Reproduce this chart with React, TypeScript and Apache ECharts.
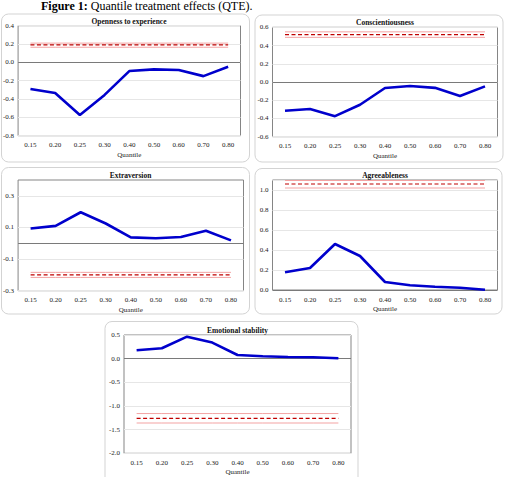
import React, { useEffect, useRef } from "react";
import * as echarts from "echarts";

// Quantiles at which the treatment effect was estimated
const quantiles = ["0.15", "0.20", "0.25", "0.30", "0.40", "0.50", "0.60", "0.70", "0.80"];

// Quantile treatment effects per trait
const openness = [-0.29, -0.335, -0.575, -0.355, -0.095, -0.076, -0.084, -0.15, -0.048];
const conscientiousness = [-0.315, -0.296, -0.375, -0.25, -0.066, -0.044, -0.064, -0.154, -0.048];
const extraversion = [0.093, 0.11, 0.196, 0.125, 0.037, 0.032, 0.04, 0.079, 0.018];
const agreeableness = [0.177, 0.22, 0.46, 0.34, 0.08, 0.047, 0.033, 0.023, 0.003];
const emotionalStability = [0.178, 0.22, 0.465, 0.34, 0.078, 0.05, 0.035, 0.03, 0.008];

// Average treatment effect with its confidence bounds: [estimate, lower, upper]
const ateOpenness = [0.19, 0.165, 0.21];
const ateConscientiousness = [0.52, 0.49, 0.55];
const ateExtraversion = [-0.2, -0.216, -0.184];
const ateAgreeableness = [1.06, 1.02, 1.095];
const ateEmotionalStability = [-1.26, -1.36, -1.16];

// Value-axis tick labels
const ticksOpenness = [-0.8, -0.6, -0.4, -0.2, 0.0, 0.2, 0.4];
const ticksConscientiousness = [-0.6, -0.4, -0.2, 0.0, 0.2, 0.4, 0.6];
const ticksExtraversion = [-0.3, -0.1, 0.1, 0.3];
const ticksAgreeableness = [0.0, 0.2, 0.4, 0.6, 0.8, 1.0];
const ticksEmotionalStability = [-2.0, -1.5, -1.0, -0.5, 0.0, 0.5];

const titles = ["Openness to experience", "Conscientiousness", "Extraversion", "Agreeableness", "Emotional stability"];

const FONT = "'Liberation Serif', 'Times New Roman', serif";
const GRID_COLOR = "#e6e6e6";

type Panel = {
  title: string;
  qte: number[];
  ate: number[];
  ticks: number[];
  min: number;
  max: number;
  interval: number;
  // when the tick labels do not start on a multiple of the step, grid lines are drawn per label
  gridPerLabel?: boolean;
  box: { x: number; y: number; w: number; h: number };
  grid: { left: number; top: number; width: number; height: number };
};

const panels: Panel[] = [
  {
    title: titles[0], qte: openness, ate: ateOpenness, ticks: ticksOpenness,
    min: -0.8, max: 0.4, interval: 0.2,
    box: { x: 1.5, y: 14, w: 248, h: 148 },
    grid: { left: 17.5, top: 25.7, width: 223, height: 110 },
  },
  {
    title: titles[1], qte: conscientiousness, ate: ateConscientiousness, ticks: ticksConscientiousness,
    min: -0.6, max: 0.6, interval: 0.2,
    box: { x: 255, y: 15, w: 248, h: 147 },
    grid: { left: 272.5, top: 27.3, width: 225, height: 109.4 },
  },
  {
    title: titles[2], qte: extraversion, ate: ateExtraversion, ticks: ticksExtraversion,
    min: -0.3, max: 0.4, interval: 0.1, gridPerLabel: true,
    box: { x: 1.5, y: 167.5, w: 248, h: 146.5 },
    grid: { left: 17.5, top: 180, width: 226, height: 110.7 },
  },
  {
    title: titles[3], qte: agreeableness, ate: ateAgreeableness, ticks: ticksAgreeableness,
    min: 0, max: 1.1, interval: 0.2,
    box: { x: 255, y: 168.5, w: 247, h: 145.5 },
    grid: { left: 272.5, top: 180, width: 225, height: 110 },
  },
  {
    title: titles[4], qte: emotionalStability, ate: ateEmotionalStability, ticks: ticksEmotionalStability,
    min: -2.0, max: 0.5, interval: 0.5,
    box: { x: 105, y: 321.5, w: 253, h: 170 },
    grid: { left: 124, top: 335, width: 227, height: 118.3 },
  },
];

export default function App() {
  const ref = useRef<HTMLDivElement>(null);

  useEffect(() => {
    if (!ref.current) return;
    const chart = echarts.init(ref.current, null, { renderer: "svg" });

    const grids: any[] = [];
    const xAxes: any[] = [];
    const yAxes: any[] = [];
    const series: any[] = [];
    const graphics: any[] = [];

    graphics.push({
      type: "text",
      x: 41,
      y: 0,
      z: 10,
      style: {
        text: "{b|Figure 1:} Quantile treatment effects (QTE).",
        fontFamily: FONT,
        fontSize: 12,
        fill: "#000",
        rich: { b: { fontWeight: "bold", fontFamily: FONT, fontSize: 12, fill: "#000" } },
      },
    });

    panels.forEach((p, i) => {
      graphics.push({
        type: "rect",
        z: -10,
        shape: { x: p.box.x, y: p.box.y, width: p.box.w, height: p.box.h, r: 7 },
        style: { fill: "#fff", stroke: "#d3d3d3", lineWidth: 1 },
      });
      graphics.push({
        type: "text",
        z: 10,
        x: p.grid.left + p.grid.width / 2,
        y: p.grid.top - 4.5,
        style: {
          text: p.title,
          fontFamily: FONT,
          fontSize: 7.5,
          fontWeight: "bold",
          fill: "#111",
          textAlign: "center",
          textVerticalAlign: "middle",
        },
      });

      grids.push({
        left: p.grid.left,
        top: p.grid.top,
        width: p.grid.width,
        height: p.grid.height,
        show: true,
        borderColor: "#858585",
        borderWidth: 1,
        backgroundColor: "transparent",
        containLabel: false,
      });
      xAxes.push({
        type: "category",
        gridIndex: i,
        data: quantiles,
        boundaryGap: true,
        axisLine: { show: false },
        axisTick: { show: false },
        splitLine: { show: false },
        axisLabel: { fontFamily: FONT, fontSize: 7, color: "#222", margin: 6, interval: 0 },
        name: "Quantile",
        nameLocation: "middle",
        nameGap: 15.5,
        nameTextStyle: { fontFamily: FONT, fontSize: 7, color: "#222" },
      });
      yAxes.push({
        type: "value",
        gridIndex: i,
        min: p.min,
        max: p.max,
        interval: p.interval,
        axisLine: { show: false },
        axisTick: { show: false },
        splitLine: { show: !p.gridPerLabel, lineStyle: { color: GRID_COLOR, width: 1 } },
        axisLabel: {
          fontFamily: FONT,
          fontSize: 7,
          color: "#222",
          margin: 4,
          customValues: p.ticks,
          formatter: (v: number) => v.toFixed(1),
        },
      });

      const [est, lo, hi] = p.ate;
      series.push({
        type: "line",
        xAxisIndex: i,
        yAxisIndex: i,
        data: quantiles.map(() => hi),
        symbol: "none",
        silent: true,
        lineStyle: { color: "#f3a3a3", width: 1 },
        z: 3,
        markLine: p.gridPerLabel
          ? {
              silent: true,
              symbol: "none",
              label: { show: false },
              lineStyle: { color: GRID_COLOR, width: 1, type: "solid" },
              data: p.ticks.map((t) => ({ yAxis: t })),
            }
          : undefined,
      });
      series.push({
        type: "line",
        xAxisIndex: i,
        yAxisIndex: i,
        data: quantiles.map(() => lo),
        symbol: "none",
        silent: true,
        lineStyle: { color: "#f3a3a3", width: 1 },
        z: 3,
      });
      series.push({
        type: "line",
        xAxisIndex: i,
        yAxisIndex: i,
        data: quantiles.map(() => est),
        symbol: "none",
        silent: true,
        lineStyle: { color: "#c00000", width: 1.2, type: [4, 2.5] },
        z: 4,
      });
      series.push({
        type: "line",
        xAxisIndex: i,
        yAxisIndex: i,
        data: p.qte,
        symbol: "none",
        silent: true,
        lineStyle: { color: "#0000cc", width: 2.6 },
        z: 5,
        markLine: {
          silent: true,
          symbol: "none",
          label: { show: false },
          lineStyle: { color: "#7a7a7a", width: 1, type: "solid" },
          data: [{ yAxis: 0 }],
        },
      });
    });

    chart.setOption({
      animation: false,
      backgroundColor: "#fff",
      grid: grids,
      xAxis: xAxes,
      yAxis: yAxes,
      series,
      graphic: graphics,
    });

    return () => chart.dispose();
  }, []);

  return (
    <div
      ref={ref}
      style={{ position: "fixed", left: 0, top: 0, width: 507, height: 477 }}
    />
  );
}
